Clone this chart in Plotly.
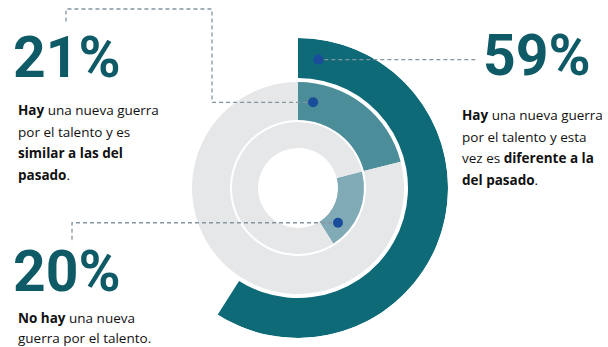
import math
import plotly.graph_objects as go

W, H = 608, 347

# Survey shares (percent)
labels = ["diferente", "similar", "no_hay"]
shares = [59, 21, 20]

# Ring radii in radial-axis units (axis spans 0..150)
R_MAX = 150
outer_ring = (110, 150)
middle_ring = (68, 106)
inner_ring = (40, 66)

# Leader dot positions (radius, angle in degrees clockwise from top)
dot_r = [130, 87, 53]
dot_theta = [9, 10, 131]

teal_dark = "#0e6a77"
teal_mid = "#4b8d99"
teal_light = "#80abb6"
ring_gray = "#e6e7e9"
dot_blue = "#1a4c9c"
dash_gray = "#8595a0"
number_color = "#0e5a66"

# Polar area placement in pixels
CX, CY, RPX = 298, 188, 150
DOT_SIZE = 10

DEG = 3.6  # degrees per percent


def bar(start_pct, span_pct, ring, color):
    lo, hi = ring
    return go.Barpolar(
        r=[hi - lo], base=[lo],
        theta=[(start_pct + span_pct / 2) * DEG], width=[span_pct * DEG],
        marker=dict(color=color, line=dict(width=0)),
        hoverinfo="skip", showlegend=False,
    )


p_dif, p_sim, p_no = shares
fig = go.Figure()
# Outer ring: "diferente" share only
fig.add_trace(bar(0, p_dif, outer_ring, teal_dark))
# Middle ring: "similar" share on gray track
fig.add_trace(bar(0, p_sim, middle_ring, teal_mid))
fig.add_trace(bar(p_sim, 100 - p_sim, middle_ring, ring_gray))
# Inner ring: "no hay" share continues after "similar"
fig.add_trace(bar(p_sim, p_no, inner_ring, teal_light))
fig.add_trace(bar(p_sim + p_no, 100 - p_no, inner_ring, ring_gray))

fig.add_trace(go.Scatterpolar(
    r=dot_r, theta=dot_theta, mode="markers",
    marker=dict(size=DOT_SIZE, color=dot_blue, line=dict(width=0)),
    hoverinfo="skip", showlegend=False,
))


def to_px(r, theta):
    a = math.radians(theta)
    s = RPX / R_MAX
    return CX + r * s * math.sin(a), CY - r * s * math.cos(a)


def px(x, y):
    return x / W, 1 - y / H


def leader(points):
    # start the dashed path at the rim of the dot it leaves from
    (x0, y0), (x1, y1) = points[0], points[1]
    d = math.hypot(x1 - x0, y1 - y0)
    off = DOT_SIZE / 2 + 1
    start = (x0 + (x1 - x0) * off / d, y0 + (y1 - y0) * off / d)
    pts = [px(x, y) for x, y in [start] + points[1:]]
    path = "M " + " L ".join(f"{x:.5f},{y:.5f}" for x, y in pts)
    return dict(type="path", xref="paper", yref="paper", path=path,
                line=dict(color=dash_gray, width=1.3, dash="4px,3px"))


d0 = to_px(dot_r[0], dot_theta[0])
d1 = to_px(dot_r[1], dot_theta[1])
d2 = to_px(dot_r[2], dot_theta[2])
shapes = [
    leader([d0, (478, d0[1])]),
    leader([d1, (212, d1[1]), (212, 9), (66, 9), (66, 23)]),
    leader([d2, (72, d2[1]), (72, 243)]),
]

big_font = dict(family="Roboto, Liberation Sans, sans-serif",
                size=57, color=number_color, weight=900)
body_font = dict(family="Open Sans, Noto Sans, sans-serif", size=13.5, color="#111111")

annotations = []


def text(x, y, s, font, anchor="left"):
    ax, ay = px(x, y)
    annotations.append(dict(x=ax, y=ay, xref="paper", yref="paper", text=s,
                            showarrow=False, xanchor=anchor, yanchor="middle",
                            font=font, borderpad=0))


text(12, 57, f"<b>{p_sim}%</b>", big_font)
text(482, 55, f"<b>{p_dif}%</b>", big_font)
text(12, 271, f"<b>{p_no}%</b>", big_font)

left_lines = ["<b>Hay</b> una nueva guerra", "por el talento y es",
              "<b>similar a las del</b>", "<b>pasado</b>."]
for i, s in enumerate(left_lines):
    text(17, 110 + i * 21.7, s, body_font)

right_lines = ["<b>Hay</b> una nueva guerra", "por el talento y esta",
               "vez es <b>diferente a la</b>", "<b>del pasado</b>."]
for i, s in enumerate(right_lines):
    text(461, 115 + i * 21.7, s, body_font)

bottom_lines = ["<b>No hay</b> una nueva", "guerra por el talento."]
for i, s in enumerate(bottom_lines):
    text(17, 318 + i * 19.5, s, body_font)

fig.update_layout(
    width=W, height=H,
    margin=dict(l=0, r=0, t=0, b=0),
    paper_bgcolor="white", plot_bgcolor="white",
    shapes=shapes, annotations=annotations,
    polar=dict(
        domain=dict(x=[(CX - RPX) / W, (CX + RPX) / W],
                    y=[(H - CY - RPX) / H, (H - CY + RPX) / H]),
        bgcolor="rgba(0,0,0,0)",
        radialaxis=dict(range=[0, R_MAX], visible=False, showgrid=False),
        angularaxis=dict(rotation=90, direction="clockwise", visible=False,
                         showgrid=False, showline=False, ticks=""),
        bargap=0,
    ),
)

fig.write_html("out.html")
